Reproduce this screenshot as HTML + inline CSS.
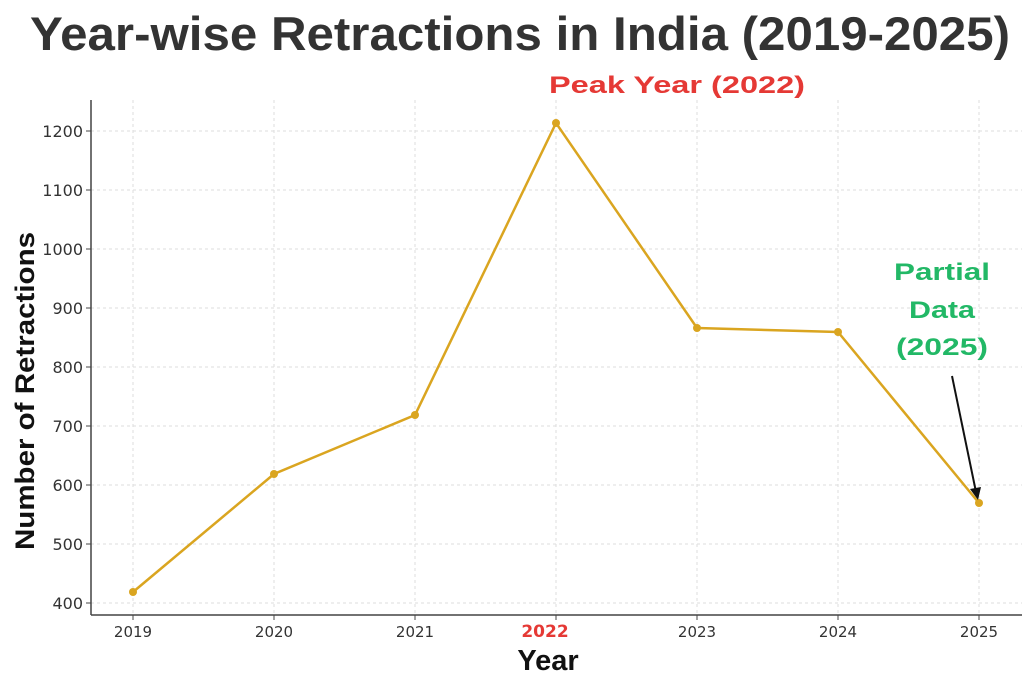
<!DOCTYPE html>
<html><head><meta charset="utf-8"><style>
html,body{margin:0;padding:0;background:#fff;}
svg{display:block;font-family:"Liberation Sans","DejaVu Sans",sans-serif;}
</style></head><body>
<svg width="1024" height="683" viewBox="0 0 1024 683" xmlns="http://www.w3.org/2000/svg">
<rect width="1024" height="683" fill="#fff"/>
<text x="520" y="50" text-anchor="middle" font-size="47" font-weight="bold" fill="#333" textLength="980" lengthAdjust="spacingAndGlyphs">Year-wise Retractions in India (2019-2025)</text>
<g stroke="#ddd" stroke-width="1" stroke-dasharray="3,3">
<line x1="91" x2="1022" y1="131" y2="131"/><line x1="91" x2="1022" y1="190" y2="190"/><line x1="91" x2="1022" y1="249" y2="249"/><line x1="91" x2="1022" y1="308" y2="308"/><line x1="91" x2="1022" y1="367" y2="367"/><line x1="91" x2="1022" y1="426" y2="426"/><line x1="91" x2="1022" y1="485" y2="485"/><line x1="91" x2="1022" y1="544" y2="544"/><line x1="91" x2="1022" y1="603" y2="603"/>
<line x1="133" x2="133" y1="100" y2="615"/><line x1="274" x2="274" y1="100" y2="615"/><line x1="415" x2="415" y1="100" y2="615"/><line x1="556" x2="556" y1="100" y2="615"/><line x1="697" x2="697" y1="100" y2="615"/><line x1="838" x2="838" y1="100" y2="615"/><line x1="979" x2="979" y1="100" y2="615"/>
</g>
<line x1="91" y1="100" x2="91" y2="615" stroke="#444" stroke-width="1.5"/>
<line x1="91" y1="615" x2="1022" y2="615" stroke="#444" stroke-width="1.5"/>
<g font-size="16" fill="#333" text-anchor="end" font-family="DejaVu Sans, sans-serif">
<text x="83" y="137">1200</text><text x="83" y="196">1100</text><text x="83" y="255">1000</text><text x="83" y="314">900</text><text x="83" y="373">800</text><text x="83" y="432">700</text><text x="83" y="491">600</text><text x="83" y="550">500</text><text x="83" y="609">400</text>
</g>
<g stroke="#444"><line x1="86" x2="91" y1="131" y2="131"/><line x1="86" x2="91" y1="190" y2="190"/><line x1="86" x2="91" y1="249" y2="249"/><line x1="86" x2="91" y1="308" y2="308"/><line x1="86" x2="91" y1="367" y2="367"/><line x1="86" x2="91" y1="426" y2="426"/><line x1="86" x2="91" y1="485" y2="485"/><line x1="86" x2="91" y1="544" y2="544"/><line x1="86" x2="91" y1="603" y2="603"/>
<line x1="133" x2="133" y1="615" y2="620"/><line x1="274" x2="274" y1="615" y2="620"/><line x1="415" x2="415" y1="615" y2="620"/><line x1="556" x2="556" y1="615" y2="620"/><line x1="697" x2="697" y1="615" y2="620"/><line x1="838" x2="838" y1="615" y2="620"/><line x1="979" x2="979" y1="615" y2="620"/></g>
<g font-size="15" fill="#333" text-anchor="middle" font-family="DejaVu Sans, sans-serif">
<text x="133" y="637">2019</text><text x="274" y="637">2020</text><text x="415" y="637">2021</text><text x="545" y="637" fill="#e53935" font-weight="bold" font-size="17">2022</text><text x="697" y="637">2023</text><text x="838" y="637">2024</text><text x="979" y="637">2025</text>
</g>
<text x="548" y="670" text-anchor="middle" font-size="29" font-weight="bold" fill="#111">Year</text>
<text transform="translate(34,391) rotate(-90)" text-anchor="middle" font-size="27" font-weight="bold" fill="#111" textLength="318" lengthAdjust="spacingAndGlyphs">Number of Retractions</text>
<polyline points="133,592 274,474 415,415 556,123 697,328 838,332 979,503" fill="none" stroke="#DAA520" stroke-width="2.5"/>
<g fill="#DAA520"><circle cx="133" cy="592" r="4"/><circle cx="274" cy="474" r="4"/><circle cx="415" cy="415" r="4"/><circle cx="556" cy="123" r="4"/><circle cx="697" cy="328" r="4"/><circle cx="838" cy="332" r="4"/><circle cx="979" cy="503" r="4"/></g>
<text x="677" y="93" text-anchor="middle" font-size="24" font-weight="bold" fill="#e53935" textLength="256" lengthAdjust="spacingAndGlyphs">Peak Year (2022)</text>
<g font-size="24" font-weight="bold" fill="#22b866" text-anchor="middle">
<text x="942" y="280" textLength="96" lengthAdjust="spacingAndGlyphs">Partial</text><text x="942" y="318" textLength="66" lengthAdjust="spacingAndGlyphs">Data</text><text x="942" y="355" textLength="92" lengthAdjust="spacingAndGlyphs">(2025)</text>
</g>
<line x1="952" y1="376" x2="976" y2="492" stroke="#111" stroke-width="2"/>
<polygon points="978,500 970,489 981,487" fill="#111"/>
</svg>
</body></html>
